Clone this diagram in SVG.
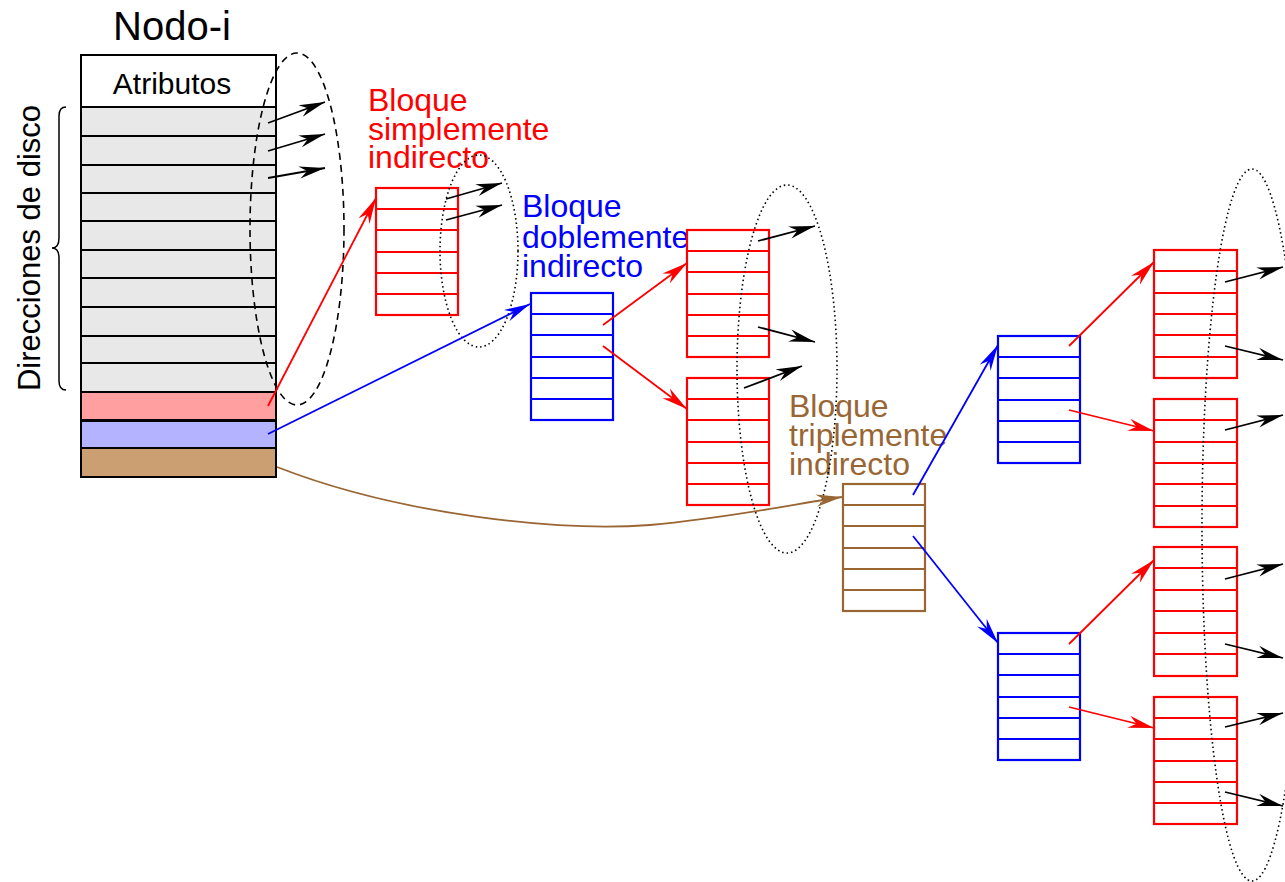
<svg xmlns="http://www.w3.org/2000/svg" width="1285" height="882" viewBox="0 0 1285 882">
  <style>
    .txt { font-family: "Liberation Sans", Arial, sans-serif; }
    .cell { fill: #e8e8e8; stroke: #000; stroke-width: 2; }
    .blk-red { fill: #fff; stroke: #ff0000; stroke-width: 2.2; }
    .blk-blue { fill: #fff; stroke: #0000ff; stroke-width: 2.2; }
    .blk-brown { fill: #fff; stroke: #996633; stroke-width: 2.2; }
    .sep-red { stroke: #ff0000; stroke-width: 2.2; }
    .sep-blue { stroke: #0000ff; stroke-width: 2.2; }
    .sep-brown { stroke: #996633; stroke-width: 2.2; }
    .ptr-black { stroke: #000; stroke-width: 1.8; fill: none; marker-end: url(#ahBlack); }
    .ptr-red { stroke: #ff0000; stroke-width: 1.8; fill: none; marker-end: url(#ahRed); }
    .ptr-blue { stroke: #0000ff; stroke-width: 1.8; fill: none; marker-end: url(#ahBlue); }
    .ptr-brown { stroke: #996633; stroke-width: 1.8; fill: none; marker-end: url(#ahBrown); }
    .dotted { fill: none; stroke: #000; stroke-width: 1.6; stroke-dasharray: 1.5 3; }
    .dashed { fill: none; stroke: #000; stroke-width: 1.6; stroke-dasharray: 7 5; }
  </style>
  <defs>
    <marker id="ahBlack" markerUnits="userSpaceOnUse" viewBox="0 0 26 14" markerWidth="26" markerHeight="14" refX="26" refY="7" orient="auto">
      <path d="M0,0.8 L26,7 L0,13.2 L8,7 z" fill="#000"/>
    </marker>
    <marker id="ahRed" markerUnits="userSpaceOnUse" viewBox="0 0 26 14" markerWidth="26" markerHeight="14" refX="26" refY="7" orient="auto">
      <path d="M0,0.8 L26,7 L0,13.2 L8,7 z" fill="#ff0000"/>
    </marker>
    <marker id="ahBlue" markerUnits="userSpaceOnUse" viewBox="0 0 26 14" markerWidth="26" markerHeight="14" refX="26" refY="7" orient="auto">
      <path d="M0,0.8 L26,7 L0,13.2 L8,7 z" fill="#0000ff"/>
    </marker>
    <marker id="ahBrown" markerUnits="userSpaceOnUse" viewBox="0 0 26 14" markerWidth="26" markerHeight="14" refX="26" refY="7" orient="auto">
      <path d="M0,0.8 L26,7 L0,13.2 L8,7 z" fill="#996633"/>
    </marker>
  </defs>

  <rect width="1285" height="882" fill="#fff"/>

  <!-- i-node -->
  <g id="nodo-i">
    <text class="txt" x="172" y="40" font-size="40" text-anchor="middle">Nodo-i</text>
    <rect x="81" y="55" width="195" height="52" fill="#fff" stroke="#000" stroke-width="2"/>
    <text class="txt" x="172" y="94" font-size="30" text-anchor="middle">Atributos</text>
    <rect class="cell" x="81" y="107" width="195" height="29"/>
    <rect class="cell" x="81" y="136" width="195" height="29"/>
    <rect class="cell" x="81" y="165" width="195" height="28"/>
    <rect class="cell" x="81" y="193" width="195" height="28"/>
    <rect class="cell" x="81" y="221" width="195" height="29"/>
    <rect class="cell" x="81" y="250" width="195" height="28"/>
    <rect class="cell" x="81" y="278" width="195" height="29"/>
    <rect class="cell" x="81" y="307" width="195" height="29"/>
    <rect class="cell" x="81" y="336" width="195" height="27"/>
    <rect class="cell" x="81" y="363" width="195" height="29"/>
    <rect x="81" y="392" width="195" height="28" fill="#ff9f9f" stroke="#000" stroke-width="2"/>
    <rect x="81" y="421" width="195" height="27" fill="#b3b3ff" stroke="#000" stroke-width="2"/>
    <rect x="81" y="448" width="195" height="29" fill="#cc9f72" stroke="#000" stroke-width="2"/>
    <!-- brace over the direct address slots -->
    <path d="M66,107 Q59,107 59,116 L59,238 Q59,248 52,248 Q59,248 59,258 L59,381 Q59,390 66,390" fill="none" stroke="#000" stroke-width="1.5"/>
    <text class="txt" font-size="31" text-anchor="middle" transform="translate(40,248) rotate(-90)">Direcciones de disco</text>
  </g>

  <!-- single indirect block -->
  <g id="bloque-simple">
    <text class="txt" font-size="32" fill="#ff0000"><tspan x="368" y="111">Bloque</tspan><tspan x="368" y="140">simplemente</tspan><tspan x="368" y="168">indirecto</tspan></text>
    <rect class="blk-red" x="376" y="188" width="82" height="127"/>
    <path class="sep-red" d="M376,209H458M376,230H458M376,252H458M376,273H458M376,294H458"/>
  </g>

  <!-- double indirect block -->
  <g id="bloque-doble">
    <text class="txt" font-size="32" fill="#0000ff"><tspan x="522" y="217">Bloque</tspan><tspan x="522" y="248">doblemente</tspan><tspan x="522" y="277">indirecto</tspan></text>
    <rect class="blk-blue" x="531" y="293" width="82" height="127"/>
    <path class="sep-blue" d="M531,314H613M531,335H613M531,357H613M531,378H613M531,399H613"/>
  </g>

  <g id="bloque-a">
    <rect class="blk-red" x="687" y="230" width="82" height="127"/>
    <path class="sep-red" d="M687,251H769M687,272H769M687,294H769M687,315H769M687,336H769"/>
  </g>
  <g id="bloque-b">
    <rect class="blk-red" x="687" y="378" width="82" height="127"/>
    <path class="sep-red" d="M687,399H769M687,420H769M687,442H769M687,463H769M687,484H769"/>
  </g>

  <!-- triple indirect block -->
  <g id="bloque-triple">
    <text class="txt" font-size="32" fill="#996633"><tspan x="789" y="417">Bloque</tspan><tspan x="789" y="446">triplemente</tspan><tspan x="789" y="475">indirecto</tspan></text>
    <rect class="blk-brown" x="843" y="484" width="82" height="127"/>
    <path class="sep-brown" d="M843,505H925M843,526H925M843,548H925M843,569H925M843,590H925"/>
  </g>

  <g id="bloque-c">
    <rect class="blk-blue" x="998" y="336" width="82" height="127"/>
    <path class="sep-blue" d="M998,357H1080M998,378H1080M998,400H1080M998,421H1080M998,442H1080"/>
  </g>
  <g id="bloque-d">
    <rect class="blk-blue" x="998" y="633" width="82" height="127"/>
    <path class="sep-blue" d="M998,654H1080M998,675H1080M998,697H1080M998,718H1080M998,739H1080"/>
  </g>

  <g id="bloque-e">
    <rect class="blk-red" x="1154" y="250" width="83" height="128"/>
    <path class="sep-red" d="M1154,271H1237M1154,293H1237M1154,314H1237M1154,335H1237M1154,357H1237"/>
  </g>
  <g id="bloque-f">
    <rect class="blk-red" x="1154" y="399" width="83" height="128"/>
    <path class="sep-red" d="M1154,420H1237M1154,442H1237M1154,463H1237M1154,484H1237M1154,506H1237"/>
  </g>
  <g id="bloque-g">
    <rect class="blk-red" x="1154" y="547" width="83" height="129"/>
    <path class="sep-red" d="M1154,568H1237M1154,590H1237M1154,611H1237M1154,633H1237M1154,654H1237"/>
  </g>
  <g id="bloque-h">
    <rect class="blk-red" x="1154" y="697" width="83" height="127"/>
    <path class="sep-red" d="M1154,718H1237M1154,739H1237M1154,761H1237M1154,782H1237M1154,803H1237"/>
  </g>

  <!-- groupings of data-block pointers -->
  <g id="agrupaciones">
    <ellipse class="dashed" cx="297" cy="229" rx="47" ry="176"/>
    <ellipse class="dotted" cx="479" cy="251" rx="39" ry="96"/>
    <ellipse class="dotted" cx="787" cy="369" rx="50" ry="184"/>
    <ellipse class="dotted" cx="1252" cy="525" rx="50" ry="356"/>
  </g>

  <!-- connectors -->
  <g id="conectores">
    <line class="ptr-black" x1="268" y1="123" x2="325" y2="102"/>
    <line class="ptr-black" x1="268" y1="151" x2="325" y2="134"/>
    <line class="ptr-black" x1="268" y1="178" x2="325" y2="168"/>

    <line class="ptr-red" x1="268" y1="406" x2="376" y2="198"/>
    <line class="ptr-blue" x1="268" y1="434" x2="530" y2="304"/>
    <path class="ptr-brown" d="M277,467 C400,515 560,532 650,525 C730,518 800,503 842,497"/>

    <line class="ptr-black" x1="446" y1="199" x2="502" y2="183"/>
    <line class="ptr-black" x1="446" y1="220" x2="502" y2="205"/>

    <line class="ptr-red" x1="603" y1="325" x2="687" y2="263"/>
    <line class="ptr-red" x1="603" y1="346" x2="687" y2="409"/>

    <line class="ptr-black" x1="758" y1="241" x2="815" y2="226"/>
    <line class="ptr-black" x1="758" y1="327" x2="815" y2="342"/>
    <line class="ptr-black" x1="744" y1="388" x2="802" y2="366"/>

    <line class="ptr-blue" x1="913" y1="495" x2="998" y2="345"/>
    <line class="ptr-blue" x1="913" y1="536" x2="998" y2="643"/>

    <line class="ptr-red" x1="1069" y1="346" x2="1154" y2="262"/>
    <line class="ptr-red" x1="1069" y1="410" x2="1154" y2="431"/>
    <line class="ptr-red" x1="1069" y1="644" x2="1154" y2="560"/>
    <line class="ptr-red" x1="1069" y1="707" x2="1154" y2="728"/>

    <line class="ptr-black" x1="1225" y1="282" x2="1283" y2="267"/>
    <line class="ptr-black" x1="1225" y1="346" x2="1283" y2="360"/>
    <line class="ptr-black" x1="1225" y1="430" x2="1283" y2="415"/>
    <line class="ptr-black" x1="1225" y1="579" x2="1283" y2="564"/>
    <line class="ptr-black" x1="1225" y1="644" x2="1283" y2="658"/>
    <line class="ptr-black" x1="1225" y1="727" x2="1283" y2="713"/>
    <line class="ptr-black" x1="1225" y1="792" x2="1283" y2="806"/>
  </g>
</svg>
